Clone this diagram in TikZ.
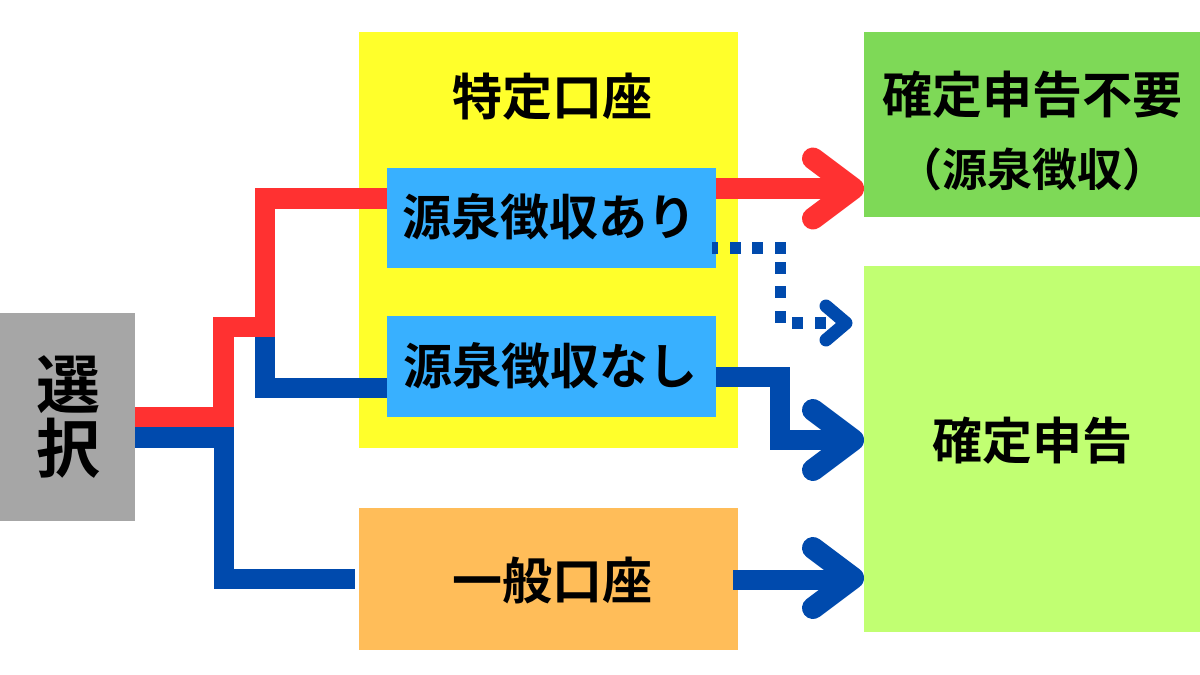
\documentclass[tikz,border=0pt]{standalone}
\usepackage{fontspec}
\newfontfamily\cjk{Noto Sans CJK JP}[BoldFont={Noto Sans CJK JP Bold}]
\definecolor{cgrey}{HTML}{A6A6A6}
\definecolor{cyellow}{HTML}{FFFF2B}
\definecolor{csky}{HTML}{38B0FF}
\definecolor{corange}{HTML}{FFBD59}
\definecolor{cgreen}{HTML}{7ED957}
\definecolor{clime}{HTML}{C1FF72}
\definecolor{cred}{HTML}{FF3131}
\definecolor{cblue}{HTML}{004AAD}
\tikzset{
  box/.style={fill=#1,draw=none,inner sep=0pt,outer sep=0pt,anchor=north west},
  txt/.style={font=\cjk\bfseries\fontsize{50}{73.5}\selectfont,text=black,inner sep=0pt,align=center},
  txtsmall/.style={txt,font=\cjk\bfseries\fontsize{49}{60}\selectfont},
  wire/.style={draw=#1,line width=20.5pt,line cap=butt,line join=miter},
  head/.style={draw=#1,line width=22pt,line cap=round,line join=round},
  smallhead/.style={draw=#1,line width=13pt,line cap=round,line join=round},
  dots/.style={draw=cblue,line width=11.5pt,dash pattern=on 6pt off 12pt on 11pt off 11pt on 11pt off 12pt on 11pt off 8.5pt on 12pt off 12pt on 12pt off 13pt on 11.5pt off 12pt on 11pt off 12pt on 11pt off 60pt}
}
\newcommand{\arrowhead}[2]{\draw[head=#1] ([shift={(-40pt,-30pt)}]#2) -- (#2) -- ([shift={(-40pt,30pt)}]#2);}
\begin{document}
\begin{tikzpicture}[x=1pt,y=-1pt]
\useasboundingbox (0,0) rectangle (1200,675);
\node[box=cgrey,minimum width=135pt,minimum height=208pt] (sel) at (0,313) {};
\node[box=cyellow,minimum width=379pt,minimum height=416pt] (tok) at (359,32) {};
\node[box=csky,minimum width=329pt,minimum height=100pt] (ari) at (387,168) {};
\node[box=csky,minimum width=329pt,minimum height=101pt] (nashi) at (387,316) {};
\node[box=corange,minimum width=379pt,minimum height=142pt] (ippan) at (359,508) {};
\node[box=cgreen,minimum width=336pt,minimum height=185pt] (fuyo) at (864,32) {};
\node[box=clime,minimum width=336pt,minimum height=366pt] (shin) at (864,266) {};

\node[txt,font=\cjk\bfseries\fontsize{64}{64}\selectfont] (tsel) at (68.5,417.5) {選\\択};
\node[txt] (ttok) at (552,97) {特定口座};
\node[txtsmall] (tari) at (549.5,217) {源泉徴収あり};
\node[txtsmall] (tnashi) at (550,366) {源泉徴収なし};
\node[txt] (tippan) at (552,580) {一般口座};
\node[txt] (tfuyo) at (1032,131) {確定申告不要\\\fontsize{45}{73.5}\selectfont （源泉徴収）};
\node[txt] (tshin) at (1032,441) {確定申告};

% junctions
\coordinate (j1) at (265,336);
\coordinate (tipa) at (853,188.5);
\coordinate (tipb) at (853,440);
\coordinate (tipc) at (853,578);
\coordinate (tipd) at (846,323);

% blue wires from the selector
\draw[wire=cblue] (sel.east |- 0,437.5) -- (224,437.5) |- (355,579);
\draw[wire=cblue] (j1) |- (nashi.west |- 0,388);
% red wires from the selector
\draw[wire=cred] (sel.east |- 0,417) -- (223.5,417) |- (265,327) |- (ari.west |- 0,198.5);

% arrows to the results
\draw[wire=cred] (ari.east |- tipa) -- (tipa);
\arrowhead{cred}{tipa}
\draw[wire=cblue] (nashi.east |- 0,377) -- (780,377) |- (tipb);
\arrowhead{cblue}{tipb}
\draw[wire=cblue] (733,580) -- (tipc |- 0,580);
\arrowhead{cblue}{tipc}
\draw[dots] (712,248) -| (780.5,323) -- (tipd);
\draw[smallhead=cblue] ([shift={(-20pt,-17pt)}]tipd) -- (tipd) -- ([shift={(-20pt,17pt)}]tipd);
\end{tikzpicture}
\end{document}
